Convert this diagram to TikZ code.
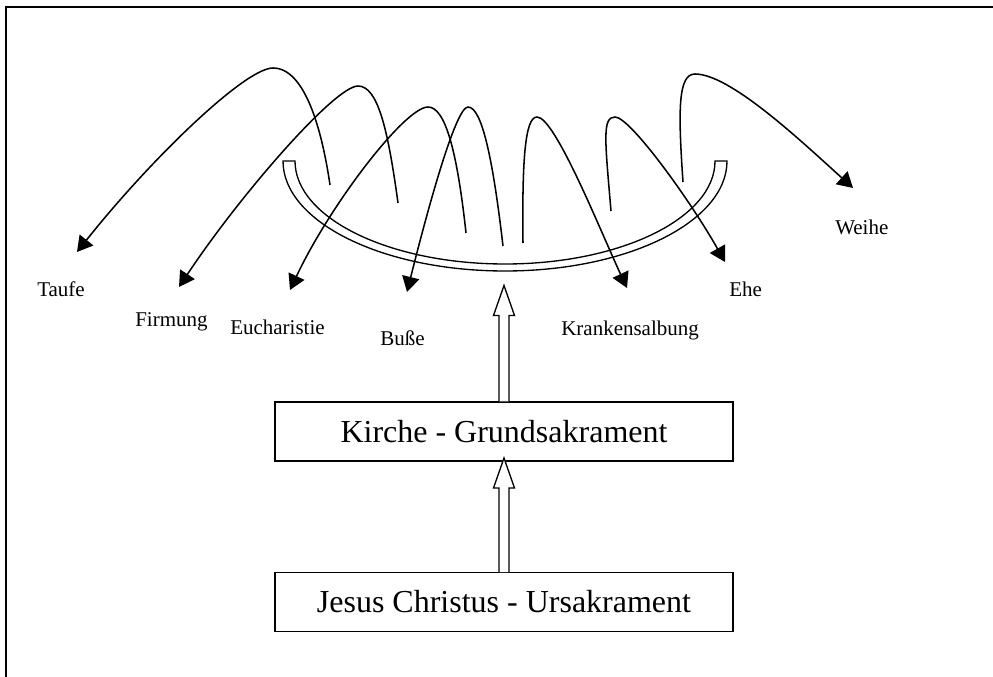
\documentclass[tikz,border=0pt]{standalone}
\usepackage{fontspec}
\setmainfont{Liberation Serif}
\usetikzlibrary{arrows.meta,calc}
\begin{document}
\begin{tikzpicture}[x=0.75pt,y=0.75pt,
  lbl/.style={anchor=base west,inner sep=0pt,font=\fontsize{15.75}{19}\selectfont},
  bigbox/.style={draw,line width=1pt,minimum width=343.5pt,minimum height=44pt,inner sep=0pt,font=\fontsize{24}{29}\selectfont},
  loopline/.style={line width=1.15pt,-{Triangle[length=11.5pt,width=13pt]}},
  hollow/.style={draw,line width=1pt,fill=white},
  frameline/.style={line width=1.5pt},
  bowl/.style={draw,line width=1pt,fill=white}]
\useasboundingbox (0,-677) rectangle (993,0);
% frame
\draw[frameline] (6,-677) -- (6,-7.5) -- (993,-7.5);
% bowl
\draw[bowl] (283,-161) arc[start angle=180,end angle=360,x radius=166.5pt,y radius=82.5pt]
  -- (715,-161) arc[start angle=0,end angle=-180,x radius=157.5pt,y radius=77.25pt] -- cycle;
% boxes
\node[bigbox] (kirche) at (504,-431.5) {Kirche - Grundsakrament};
\node[bigbox] (jesus) at (504,-602) {Jesus Christus - Ursakrament};
% hollow arrows
\draw[hollow] ($(kirche.north)+(-5,0)$) -- ++(0,86) -- ++(-5.5,0) -- ++(10.5,30) -- ++(10.5,-30) -- ++(-5.5,0) -- ++(0,-86);
\draw[hollow] ($(jesus.north)+(-5,0)$) -- ++(0,84) -- ++(-5.5,0) -- ++(10.5,30) -- ++(10.5,-30) -- ++(-5.5,0) -- ++(0,-84);
% labels
\node[lbl] (taufe) at (37,-297) {Taufe};
\node[lbl] (firmung) at (135,-327) {Firmung};
\node[lbl] (euch) at (230,-335) {Eucharistie};
\node[lbl] (busse) at (380,-346) {Buße};
\node[lbl] (kranken) at (561,-336) {Krankensalbung};
\node[lbl] (ehe) at (729,-297) {Ehe};
\node[lbl] (weihe) at (835,-235) {Weihe};
% loop start and tip coordinates
\coordinate (s1) at (330,-185); \coordinate (t1) at (77,-252);
\coordinate (s2) at (398,-203); \coordinate (t2) at (179,-287);
\coordinate (s3) at (466,-233); \coordinate (t3) at (290,-290);
\coordinate (s4) at (503,-246); \coordinate (t4) at (407,-292);
\coordinate (s5) at (523,-243); \coordinate (t5) at (627,-288);
\coordinate (s6) at (611,-211); \coordinate (t6) at (725,-262);
\coordinate (s7) at (683,-182); \coordinate (t7) at (853,-188);
% loops
\draw[loopline] (s1) .. controls (322,-130) and (305,-68) .. (273,-68)
  .. controls (245,-68) and (150,-160) .. (t1);
\draw[loopline] (s2) .. controls (388,-130) and (378,-86) .. (358,-86)
  .. controls (335,-86) and (240,-195) .. (t2);
\draw[loopline] (s3) .. controls (457,-150) and (445,-107) .. (428,-107)
  .. controls (405,-107) and (330,-205) .. (t3);
\draw[loopline] (s4) .. controls (493,-160) and (482,-107) .. (468,-107)
  .. controls (455,-107) and (425,-220) .. (t4);
\draw[loopline] (s5) .. controls (522,-160) and (525,-117) .. (537,-117)
  .. controls (555,-117) and (600,-230) .. (t5);
\draw[loopline] (s6) .. controls (605,-140) and (602,-117) .. (615,-117)
  .. controls (630,-117) and (690,-200) .. (t6);
\draw[loopline] (s7) .. controls (678,-110) and (678,-74) .. (695,-74)
  .. controls (730,-74) and (800,-140) .. (t7);
\end{tikzpicture}
\end{document}
